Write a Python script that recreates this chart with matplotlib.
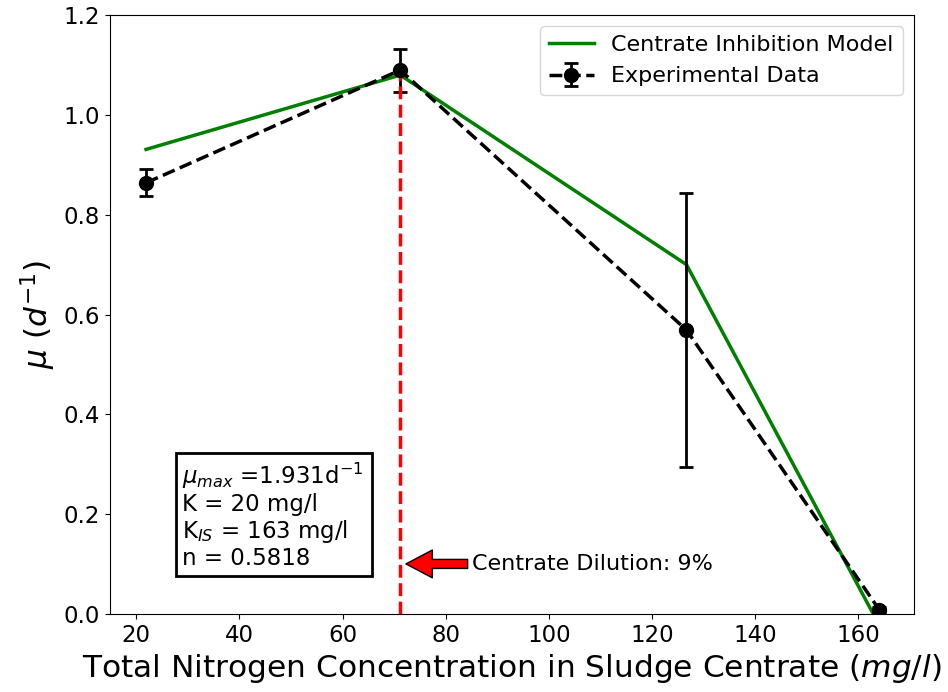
import numpy as np
import matplotlib
matplotlib.use('Agg')
import matplotlib.pyplot as plt

# experimental data
tn = [21.9, 71.2, 126.7, 164.1]
mu = [0.864, 1.090, 0.569, 0.008]
mu_err = [0.027, 0.043, 0.274, 0.006]

# model curve
tn_model = [21.9, 71.2, 126.7, 162.9]
mu_model = [0.931, 1.080, 0.700, 0.0]

dilution_x = 71.2

fig = plt.figure(figsize=(9.48, 6.92), dpi=100)
ax = fig.add_axes([0.116, 0.113, 0.848, 0.865])

ax.plot(tn_model, mu_model, color='green', lw=2.5, label='Centrate Inhibition Model')
ax.errorbar(tn, mu, yerr=mu_err, fmt='o--', color='black', ms=10, lw=2.5,
            elinewidth=2, capsize=5, capthick=2, label='Experimental Data')

ax.vlines(dilution_x, 0, 1.09, colors='red', linestyles='--', lw=2.5)

ax.annotate('Centrate Dilution: 9%', xy=(71.9, 0.1), xytext=(85.2, 0.1),
            fontsize=16, va='center', ha='left',
            arrowprops=dict(facecolor='red', edgecolor='black', shrink=0.03,
                            width=6.5, headwidth=20, headlength=19))

ax.text(28.9, 0.088,
        '$\\mu_{max}$ =1.931d$^{-1}$ \nK = 20 mg/l\nK$_{IS}$ = 163 mg/l\nn = 0.5818',
        fontsize=16.5, ha='left', va='bottom', linespacing=1.1,
        bbox=dict(facecolor='white', edgecolor='black', lw=2, pad=4.5))

ax.set_xlim(14.9, 170.8)
ax.set_ylim(0, 1.2)
ax.tick_params(labelsize=16.5)
ax.set_xlabel('Total Nitrogen Concentration in Sludge Centrate $(mg/l)$', fontsize=22.5)
ax.set_ylabel('$\\mu$ $(d^{-1})$', fontsize=22.5)
ax.legend(loc='upper right', fontsize=16)

plt.savefig('out.png', dpi=100)
